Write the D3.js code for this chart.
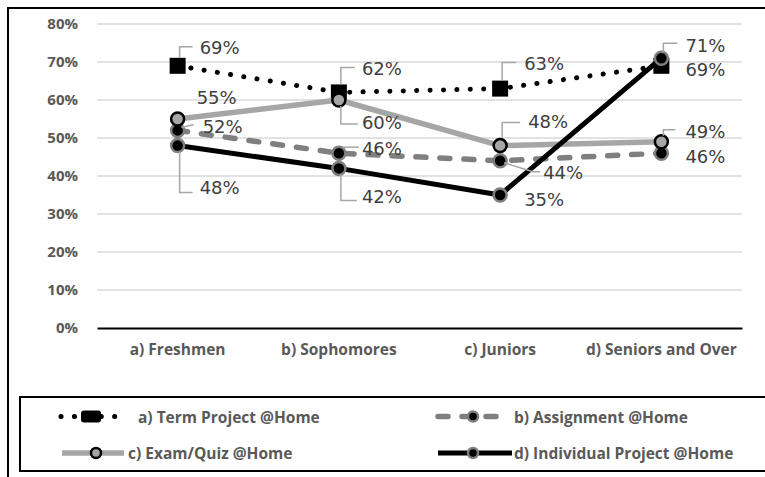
<!DOCTYPE html>
<html>
<head>
<meta charset="utf-8">
<script src="https://cdn.jsdelivr.net/npm/d3@7/dist/d3.min.js"></script>
<style>
  html, body { margin: 0; padding: 0; background: #fff; }
  svg { display: block; }
</style>
</head>
<body>
<svg id="chart" width="765" height="477"></svg>
<script>
// ---- data ----
const categories = ["a) Freshmen", "b) Sophomores", "c) Juniors", "d) Seniors and Over"];
const seriesNames = ["a) Term Project @Home", "b) Assignment @Home", "c) Exam/Quiz @Home", "d) Individual Project @Home"];
const termProject = [0.69, 0.62, 0.63, 0.69];
const assignment = [0.52, 0.46, 0.44, 0.46];
const examQuiz = [0.55, 0.60, 0.48, 0.49];
const individualProject = [0.48, 0.42, 0.35, 0.71];
const yTicks = [0, 0.1, 0.2, 0.3, 0.4, 0.5, 0.6, 0.7, 0.8];

// ---- layout ----
const svg = d3.select("#chart");
const plot = { left: 97, right: 742, top: 24, bottom: 328 };
const x = d3.scaleBand().domain(categories).range([plot.left, plot.right]);
const cx = c => x(c) + x.bandwidth() / 2;
const y = d3.scaleLinear().domain([0, 0.8]).range([plot.bottom, plot.top]);
const pct = d3.format(".0%");

const axisFont = "'Open Sans', 'Noto Sans', sans-serif";
const valueFont = "'DejaVu Sans', 'Open Sans', sans-serif";

// outer chart frame (extends past the visible area)
svg.append("rect").attr("x", 8).attr("y", 8).attr("width", 820).attr("height", 520)
  .attr("fill", "none").attr("stroke", "#000").attr("stroke-width", 2);

// gridlines
svg.append("g").selectAll("line").data(yTicks.filter(t => t > 0)).join("line")
  .attr("x1", plot.left).attr("x2", plot.right)
  .attr("y1", d => y(d)).attr("y2", d => y(d))
  .attr("stroke", "#D9D9D9").attr("stroke-width", 1.5);

// y axis
const yAxis = svg.append("g").attr("transform", `translate(${plot.left},0)`)
  .call(d3.axisLeft(y).tickValues(yTicks).tickFormat(pct).tickSize(0).tickPadding(19));
yAxis.select(".domain").remove();
yAxis.selectAll("text").attr("font-family", axisFont).attr("font-weight", 700)
  .attr("font-size", 15).attr("fill", "#595959");

// x axis
const xAxis = svg.append("g").attr("transform", `translate(0,${plot.bottom})`)
  .call(d3.axisBottom(x).tickSize(0).tickPadding(16));
xAxis.select(".domain").attr("stroke", "#000").attr("stroke-width", 2);
xAxis.selectAll("text").attr("font-family", axisFont).attr("font-weight", 700)
  .attr("font-size", 15.5).attr("fill", "#595959");

// ---- series ----
const series = [
  { name: seriesNames[0], values: termProject, stroke: "#000", width: 5, dash: "0.1 13.3", cap: "round", marker: "square", mFill: "#000", mStroke: "#000" },
  { name: seriesNames[1], values: assignment, stroke: "#7F7F7F", width: 5.5, dash: "10 14", cap: "round", marker: "circle", mFill: "#000", mStroke: "#7F7F7F" },
  { name: seriesNames[2], values: examQuiz, stroke: "#A6A6A6", width: 5.5, dash: null, cap: "butt", marker: "circle", mFill: "#A6A6A6", mStroke: "#000" },
  { name: seriesNames[3], values: individualProject, stroke: "#000", width: 5, dash: null, cap: "butt", marker: "circle", mFill: "#000", mStroke: "#7F7F7F" }
];

const line = d3.line().x((d, i) => cx(categories[i])).y(d => y(d));

function drawMarker(g, s, px, py) {
  if (s.marker === "square") {
    g.append("rect").attr("x", px - 8).attr("y", py - 8).attr("width", 16).attr("height", 16)
      .attr("fill", s.mFill);
  } else {
    g.append("circle").attr("cx", px).attr("cy", py).attr("r", 6.5)
      .attr("fill", s.mFill).attr("stroke", s.mStroke).attr("stroke-width", 2.5);
  }
}

const seriesG = svg.append("g");
series.forEach(s => {
  const g = seriesG.append("g");
  g.append("path").datum(s.values).attr("d", line)
    .attr("fill", "none").attr("stroke", s.stroke).attr("stroke-width", s.width)
    .attr("stroke-linecap", s.cap).attr("stroke-linejoin", "round")
    .attr("stroke-dasharray", s.dash);
  s.values.forEach((v, i) => drawMarker(g, s, cx(categories[i]), y(v)));
});

// ---- data labels (offsets from each point, with optional leader lines) ----
const labelPlacement = [
  [ { dx: 22, dy: -18, leader: [[2, -8], [2, -19], [15, -19]] },
    { dx: 23, dy: -24, leader: [[2, -8], [2, -25], [16, -25]] },
    { dx: 24, dy: -25, leader: [[2, -8], [2, -26], [16, -26]] },
    { dx: 24, dy: 4 } ],
  [ { dx: 25, dy: -4, leader: [[4, -3], [16, -6]] },
    { dx: 23, dy: -5, leader: [[4, -6], [20, -6]] },
    { dx: 43, dy: 12, leader: [[4, 2], [33, 11], [40, 11]] },
    { dx: 24, dy: 3.5 } ],
  [ { dx: 19, dy: -22 },
    { dx: 23, dy: 22, leader: [[2, 6], [2, 24], [19, 24]] },
    { dx: 28, dy: -24, leader: [[2, -8], [2, -23], [20, -23]] },
    { dx: 24, dy: -10, leader: [[2, -6], [2, -12], [14, -12]] } ],
  [ { dx: 22, dy: 42, leader: [[2, 6], [2, 47], [15, 47]] },
    { dx: 23, dy: 28, leader: [[2, 6], [2, 32], [18, 32]] },
    { dx: 24, dy: 4 },
    { dx: 24, dy: -13, leader: [[2, -6], [2, -15], [16, -15]] } ]
];

const labelsG = svg.append("g");
series.forEach((s, si) => {
  s.values.forEach((v, i) => {
    const px = cx(categories[i]), py = y(v);
    const p = labelPlacement[si][i];
    if (p.leader) {
      labelsG.append("path")
        .attr("d", d3.line()(p.leader.map(([a, b]) => [px + a, py + b])))
        .attr("fill", "none").attr("stroke", "#A6A6A6").attr("stroke-width", 1.5);
    }
    labelsG.append("text").attr("x", px + p.dx).attr("y", py + p.dy)
      .attr("dominant-baseline", "central")
      .attr("font-family", valueFont).attr("font-size", 18).attr("fill", "#404040")
      .text(pct(v));
  });
});

// ---- legend ----
svg.append("rect").attr("x", 20).attr("y", 397).attr("width", 800).attr("height", 74)
  .attr("fill", "#fff").attr("stroke", "#000").attr("stroke-width", 2);

const legendPlacement = [
  { x0: 61, x1: 120, mx: 91, ty: 416.5, tx: 138 },
  { x0: 438, x1: 500, mx: 473, ty: 416.5, tx: 514 },
  { x0: 62, x1: 124, mx: 96, ty: 453, tx: 128 },
  { x0: 438, x1: 512, mx: 473, ty: 453, tx: 514 }
];

series.forEach((s, si) => {
  const L = legendPlacement[si];
  const g = svg.append("g");
  g.append("line").attr("x1", L.x0).attr("x2", L.x1).attr("y1", L.ty).attr("y2", L.ty)
    .attr("stroke", s.stroke).attr("stroke-width", s.width)
    .attr("stroke-linecap", s.cap).attr("stroke-dasharray", s.dash);
  if (s.marker === "square") {
    g.append("rect").attr("x", L.mx - 10).attr("y", L.ty - 6).attr("width", 20).attr("height", 12)
      .attr("rx", 3).attr("fill", "#000");
  } else {
    g.append("circle").attr("cx", L.mx).attr("cy", L.ty).attr("r", 5)
      .attr("fill", s.mFill).attr("stroke", s.mStroke).attr("stroke-width", 2.5);
  }
  g.append("text").attr("x", L.tx).attr("y", L.ty).attr("dominant-baseline", "central")
    .attr("font-family", axisFont).attr("font-weight", 700).attr("font-size", 15.5)
    .attr("fill", "#595959").text(s.name);
});
</script>
</body>
</html>
